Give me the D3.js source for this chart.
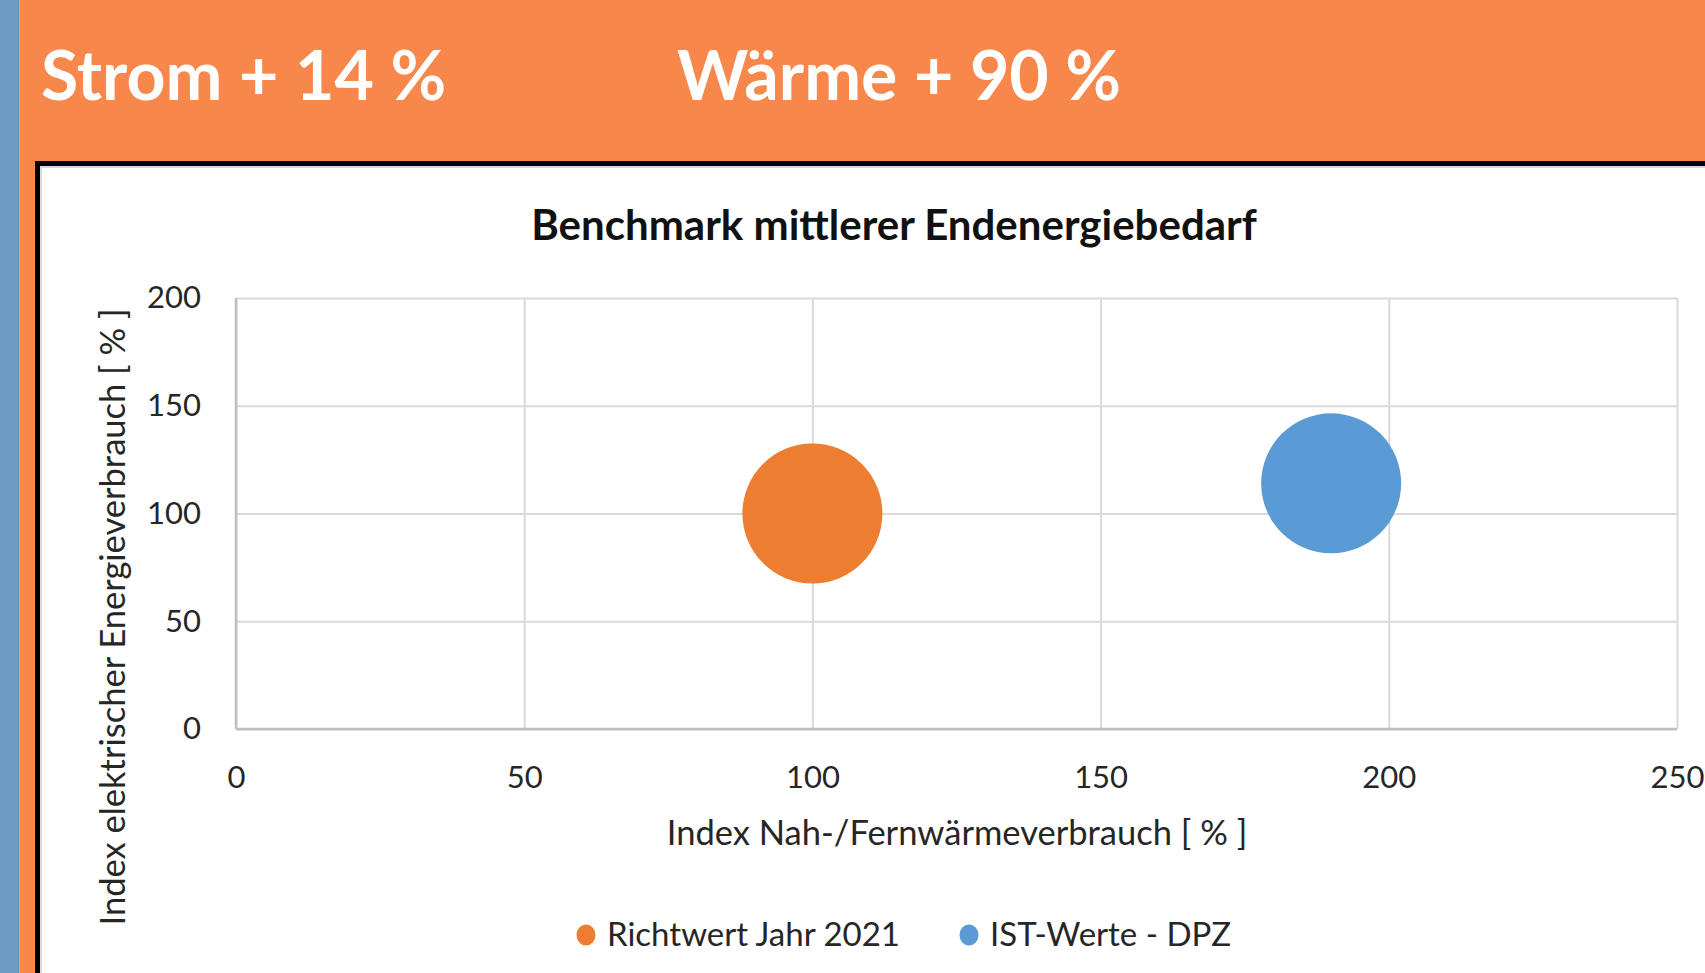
<!DOCTYPE html>
<html>
<head>
<meta charset="utf-8">
<script src="https://cdn.jsdelivr.net/npm/d3@7"></script>
<style>
  body { margin: 0; background: #f7874b; overflow: hidden; }
  text { font-family: Lato, 'Open Sans', sans-serif; }
</style>
</head>
<body>
<div class="chart"></div>
<script>
var width = 1705;
var height = 973;

// data
var headlines = ['Strom + 14 %', 'Wärme + 90 %'];
var chartTitle = 'Benchmark mittlerer Endenergiebedarf';
var xTitle = 'Index Nah-/Fernwärmeverbrauch [ % ]';
var yTitle = 'Index elektrischer Energieverbrauch [ % ]';
var seriesNames = ['Richtwert Jahr 2021', 'IST-Werte - DPZ'];
var seriesColors = ['#ed7d31', '#5b9bd5'];
var xValues = [100, 190];
var yValues = [100, 114];
var bubbleSizes = [100, 100];
var xTicks = [0, 50, 100, 150, 200, 250];
var yTicks = [0, 50, 100, 150, 200];

var points = seriesNames.map(function(name, i){
	return { name: name, x: xValues[i], y: yValues[i], size: bubbleSizes[i], color: seriesColors[i] };
});

var svg = d3.select('.chart')
	.append('svg')
	.attr('width', width)
	.attr('height', height);

// background pieces
svg.append('rect').attr('x', 0).attr('y', 0).attr('width', width).attr('height', height).attr('fill', '#f7874b');
svg.append('rect').attr('x', 0).attr('y', 0).attr('width', 19).attr('height', height).attr('fill', '#6b9ac4');
svg.append('rect').attr('x', 19).attr('y', 0).attr('width', 1.5).attr('height', height).attr('fill', '#f59b3c');

// headline text
svg.selectAll('.headline')
	.data(headlines)
	.enter().append('text')
	.attr('class', 'headline')
	.attr('x', function(d, i){ return i === 0 ? 41 : 677 })
	.attr('y', 100)
	.attr('fill', 'white')
	.attr('font-weight', 'bold')
	.attr('font-size', 68)
	.text(function(d){ return d });

// chart box with black frame
svg.append('rect')
	.attr('x', 37.5).attr('y', 163.5)
	.attr('width', width).attr('height', height)
	.attr('fill', 'white')
	.attr('stroke', 'black')
	.attr('stroke-width', 5);
svg.append('rect')
	.attr('x', 41).attr('y', 167)
	.attr('width', width).attr('height', height)
	.attr('fill', 'none')
	.attr('stroke', '#d9d9d9')
	.attr('stroke-width', 2);

svg.append('text')
	.attr('x', 894)
	.attr('y', 240)
	.attr('text-anchor', 'middle')
	.attr('font-weight', 'bold')
	.attr('font-size', 42)
	.attr('fill', '#111')
	.text(chartTitle);

var plotLeft = 236, plotRight = 1677, plotTop = 298, plotBottom = 729;

var x = d3.scaleLinear().domain([0, 250]).range([plotLeft, plotRight]);
var y = d3.scaleLinear().domain([0, 200]).range([plotBottom, plotTop]);
var r = d3.scaleSqrt().domain([0, d3.max(bubbleSizes)]).range([0, 70]);

// gridlines
svg.append('g')
	.attr('transform', 'translate(0,' + plotBottom + ')')
	.call(d3.axisBottom(x).tickValues(xTicks).tickSize(-(plotBottom - plotTop)).tickFormat(''))
	.call(function(g){ g.select('.domain').remove() })
	.selectAll('line').attr('stroke', '#d9d9d9').attr('stroke-width', 2);

svg.append('g')
	.attr('transform', 'translate(' + plotLeft + ',0)')
	.call(d3.axisLeft(y).tickValues(yTicks).tickSize(-(plotRight - plotLeft)).tickFormat(''))
	.call(function(g){ g.select('.domain').remove() })
	.selectAll('line').attr('stroke', '#d9d9d9').attr('stroke-width', 2);

// axis lines
svg.append('line').attr('x1', plotLeft).attr('x2', plotRight).attr('y1', plotBottom).attr('y2', plotBottom)
	.attr('stroke', '#bfbfbf').attr('stroke-width', 2.5);
svg.append('line').attr('x1', plotLeft).attr('x2', plotLeft).attr('y1', plotTop).attr('y2', plotBottom)
	.attr('stroke', '#bfbfbf').attr('stroke-width', 2.5);

// tick labels
var xAxis = svg.append('g')
	.attr('transform', 'translate(0,' + plotBottom + ')')
	.call(d3.axisBottom(x).tickValues(xTicks).tickSize(0).tickPadding(59));
xAxis.select('.domain').remove();
xAxis.selectAll('text').attr('font-size', 31).attr('fill', '#262626')
	.attr('font-family', 'Lato').attr('dy', 0);

var yAxis = svg.append('g')
	.attr('transform', 'translate(' + plotLeft + ',0)')
	.call(d3.axisLeft(y).tickValues(yTicks).tickSize(0).tickPadding(35));
yAxis.select('.domain').remove();
yAxis.selectAll('text').attr('font-size', 31).attr('fill', '#262626')
	.attr('font-family', 'Lato').attr('dy', '0.32em');

// axis titles
svg.append('text')
	.attr('x', 957)
	.attr('y', 845)
	.attr('text-anchor', 'middle')
	.attr('font-size', 34.5)
	.attr('fill', '#262626')
	.text(xTitle);

svg.append('text')
	.attr('transform', 'translate(125,617) rotate(-90)')
	.attr('text-anchor', 'middle')
	.attr('font-size', 34.5)
	.attr('fill', '#262626')
	.text(yTitle);

// bubbles
svg.selectAll('.bubble')
	.data(points)
	.enter().append('circle')
	.attr('class', 'bubble')
	.attr('cx', function(d){ return x(d.x) })
	.attr('cy', function(d){ return y(d.y) })
	.attr('r', function(d){ return r(d.size) })
	.attr('fill', function(d){ return d.color });

// legend
var legendX = [586, 969];
var legend = svg.selectAll('.legend')
	.data(points)
	.enter().append('g')
	.attr('class', 'legend')
	.attr('transform', function(d, i){ return 'translate(' + legendX[i] + ',935)' });

legend.append('ellipse')
	.attr('rx', 9.5).attr('ry', 10.5)
	.attr('fill', function(d){ return d.color });

legend.append('text')
	.attr('x', 21)
	.attr('y', 11)
	.attr('font-size', 33)
	.attr('fill', '#262626')
	.text(function(d){ return d.name });
</script>
</body>
</html>
